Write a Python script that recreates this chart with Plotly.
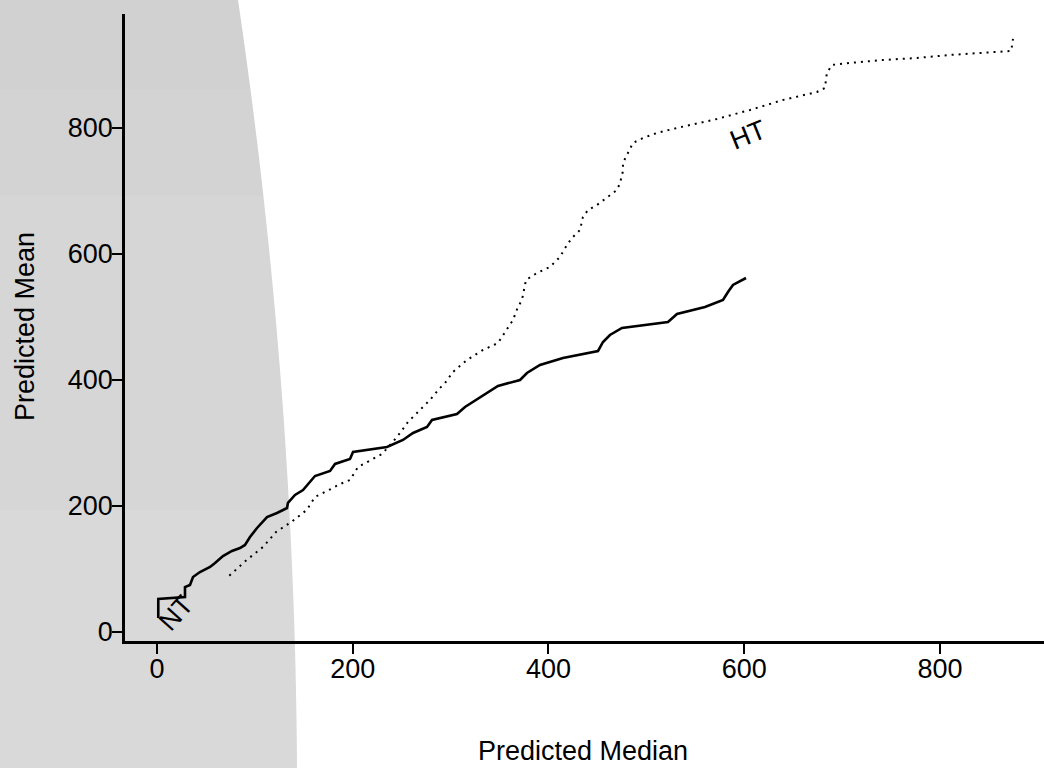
import numpy as np
import plotly.graph_objects as go

# NT (solid) series: predicted median vs predicted mean
nt_median = [1.3, 1.3, 28.6, 28.6, 33.7, 35.8, 36.8, 43.9, 54.2, 59.3, 67.4, 76.6, 84.8, 89.9,
             95.0, 102.2, 112.4, 122.6, 132.8, 133.8, 141.0, 149.2, 156.3, 161.4, 176.8, 181.9,
             197.2, 200.3, 235.0, 251.3, 261.6, 275.9, 281.0, 306.5, 314.7, 348.4, 370.9, 378.0,
             391.3, 414.8, 450.6, 455.7, 462.8, 475.1, 522.1, 531.3, 559.9, 578.3, 583.4, 588.5, 601.8]
nt_mean = [22.2, 52.4, 55.6, 71.4, 74.6, 82.5, 87.3, 95.2, 103.2, 109.5, 120.6, 128.6, 133.3, 138.1,
           150.8, 165.1, 182.5, 188.9, 196.8, 204.8, 217.5, 225.4, 238.1, 247.6, 255.6, 266.7,
           274.6, 285.7, 293.7, 304.8, 315.9, 325.4, 336.5, 346.0, 357.1, 390.5, 400.0, 411.1,
           423.8, 434.9, 446.0, 460.3, 471.4, 482.5, 492.1, 504.8, 515.9, 527.0, 539.7, 550.8, 561.9]

# HT (dotted) series
ht_median = [73.9, 91.6, 108.3, 121.6, 132.5, 137.6, 153.0, 161.4, 179.8, 187.0, 197.2, 205.4, 229.9,
             240.1, 248.3, 256.4, 265.6, 278.9, 289.1, 294.3, 302.4, 316.7, 333.1, 348.4, 363.7,
             368.8, 372.9, 376.0, 377.0, 388.3, 401.5, 411.7, 418.9, 424.0, 432.2, 435.2, 440.4,
             449.6, 462.8, 470.0, 473.1, 476.1, 476.1, 479.2, 483.3, 486.3, 496.6, 510.9, 531.3,
             552.7, 572.2, 605.9, 639.6, 674.3, 682.5, 683.5, 684.5, 689.7, 708.0, 741.8, 776.5,
             810.2, 843.9, 872.5, 873.6, 874.6]
ht_mean = [89.4, 114.3, 134.9, 158.7, 169.8, 175.1, 193.7, 214.3, 228.6, 234.9, 241.3, 261.9, 282.5,
           300.0, 315.9, 333.3, 347.6, 368.3, 387.3, 395.2, 412.7, 431.7, 447.6, 458.7, 495.2,
           515.9, 527.0, 547.6, 558.7, 569.8, 579.4, 595.2, 614.3, 625.4, 638.1, 658.7, 669.8,
           677.8, 693.7, 701.6, 712.7, 731.7, 744.4, 754.0, 765.1, 776.2, 784.1, 792.1, 800.0,
           807.9, 814.3, 828.6, 844.4, 857.1, 863.5, 876.2, 887.3, 900.0, 903.2, 907.9, 911.1,
           915.9, 919.0, 922.2, 930.2, 941.3]

tick_vals = [0, 200, 400, 600, 800]
tick_text = ["0", "200", "400", "600", "800"]

series_labels = ["NT", "HT"]
label_pos = [(19.4, 30.2, -48), (603.8, 788.9, -22)]

W, H = 1044, 768
ML, MR, MT, MB = 125, 0, 14, 127
PW, PH = W - ML - MR, H - MT - MB

def px2paper(px, py):
    return (px - ML) / PW, (H - MB - py) / PH

def edge_x(py):
    # smooth curved right edge of the grey background decoration (pixels)
    return 238 + 0.1477 * py - 9.226e-5 * py ** 2

bands = [(0, 89, "#d1d1d1"), (89, 196, "#d3d3d3"), (196, 510, "#d6d6d6"), (510, 768, "#d9d9d9")]
shapes = []
for y0, y1, col in bands:
    ys = np.linspace(y0, y1, 16)
    pts = [px2paper(-5, y0)] + [px2paper(edge_x(y), y) for y in ys] + [px2paper(-5, y1)]
    path = "M " + " L ".join(f"{a:.5f},{b:.5f}" for a, b in pts) + " Z"
    shapes.append(dict(type="path", xref="paper", yref="paper", path=path,
                       fillcolor=col, line=dict(width=0), layer="below"))

fig = go.Figure()
fig.add_trace(go.Scatter(x=nt_median, y=nt_mean, mode="lines",
                         line=dict(color="black", width=2.6), name="NT", showlegend=False))
fig.add_trace(go.Scatter(x=ht_median, y=ht_mean, mode="lines",
                         line=dict(color="black", width=2, dash="2px,5px"), name="HT", showlegend=False))

FONT = "Liberation Sans, Arial, sans-serif"
annotations = []
for lab, (lx, ly, ang) in zip(series_labels, label_pos):
    annotations.append(dict(x=lx, y=ly, xref="x", yref="y", text=lab, showarrow=False,
                            xanchor="center", yanchor="middle",
                            textangle=ang, font=dict(family=FONT, size=27, color="black")))
xt = px2paper(583, 751)
yt = px2paper(25, 327)
annotations.append(dict(x=xt[0], y=xt[1], xref="paper", yref="paper", text="Predicted Median",
                        xanchor="center", yanchor="middle",
                        showarrow=False, font=dict(family=FONT, size=27, color="black")))
annotations.append(dict(x=yt[0], y=yt[1], xref="paper", yref="paper", text="Predicted Mean",
                        xanchor="center", yanchor="middle",
                        showarrow=False, textangle=-90, font=dict(family=FONT, size=27, color="black")))

axis_common = dict(showgrid=False, zeroline=False, showline=True, linecolor="black", linewidth=2.5,
                   ticks="outside", ticklen=10, tickwidth=2, tickcolor="black",
                   tickvals=tick_vals, ticktext=tick_text,
                   tickfont=dict(family=FONT, size=27, color="black"))

fig.update_layout(
    width=W, height=H, autosize=False,
    margin=dict(l=ML, r=MR, t=MT, b=MB, pad=0),
    paper_bgcolor="white", plot_bgcolor="rgba(0,0,0,0)",
    xaxis=dict(range=[-32.7, 906.3], ticklabelstandoff=-8, **axis_common),
    yaxis=dict(range=[-14.3, 980.9], ticklabelstandoff=-6, **axis_common),
    shapes=shapes, annotations=annotations, showlegend=False,
)

fig.write_html("out.html")
